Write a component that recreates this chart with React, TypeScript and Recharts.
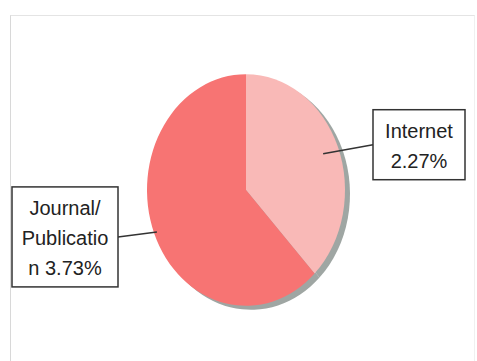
import { PieChart, Pie, Cell } from 'recharts'

const categories = ['Internet', 'Journal/Publication']
const values = [2.27, 3.73]
const colors = ['#F9B9B7', '#F77473']
const shadowColor = '#9FA6A3'

const data = categories.map((name, i) => ({ name, value: values[i] }))

const CX = 246
const CY = 190
const R = 99
const SQUASH = 1.17
const WRAP = 10

// Excel-style wrapping: break after '/' or space, hard split long words
function wrapLabel(text: string): string[] {
  const tokens = text.match(/[^\s/]+\/?|\s+/g) || []
  const lines: string[] = []
  let line = ''
  for (const tok of tokens) {
    if (/^\s+$/.test(tok)) {
      if (line) line += ' '
      continue
    }
    if ((line + tok).length <= WRAP) {
      line += tok
      continue
    }
    if (line.trim()) lines.push(line.trim())
    let rest = tok
    while (rest.length > WRAP) {
      lines.push(rest.slice(0, WRAP))
      rest = rest.slice(WRAP)
    }
    line = rest
  }
  if (line.trim()) lines.push(line.trim())
  return lines
}

function BoxLabel(props: any) {
  const { cx, cy, midAngle, outerRadius, name, value } = props
  const rad = (-midAngle * Math.PI) / 180
  const cos = Math.cos(rad)
  const sin = Math.sin(rad)
  const right = cos >= 0
  const k = right ? 0.84 : 0.97
  const ax = cx + outerRadius * k * cos
  const ay = cy + outerRadius * SQUASH * k * sin
  const lines = wrapLabel(`${name} ${value.toFixed(2)}%`)
  const maxLen = Math.max(...lines.map((l) => l.length))
  const w = 36 + 7 * maxLen
  const h = lines.length * 30 + 10
  const boxX = right ? cx + outerRadius + 28 : cx - outerRadius - 29 - w
  const midY = ay + (right ? -9 : 5)
  const boxY = midY - h / 2
  const lineEndX = right ? boxX : boxX + w
  return (
    <g>
      <line x1={ax} y1={ay} x2={lineEndX} y2={midY} stroke="#333" strokeWidth={1.5} />
      <rect x={boxX} y={boxY} width={w} height={h} fill="#fff" stroke="#333" strokeWidth={1.5} />
      {lines.map((l, i) => (
        <text
          key={i}
          x={boxX + w / 2}
          y={boxY + 28 + i * 30}
          textAnchor="middle"
          fontSize={20}
          fontFamily="'Liberation Sans', Arial, sans-serif"
          fill="#222"
        >
          {l}
        </text>
      ))}
    </g>
  )
}

export default function App() {
  return (
    <div style={{ position: 'absolute', left: 0, top: 0, width: 477, height: 361, background: '#fff' }}>
      <style>{`
        .main-pie .recharts-pie-sector { transform: scaleY(${SQUASH}); transform-origin: ${CX}px ${CY}px; }
        .shadow-pie .recharts-pie-sector { transform: scaleY(${SQUASH}); transform-origin: ${CX + 5}px ${CY + 4}px; }
      `}</style>
      <div
        style={{
          position: 'absolute',
          left: 10,
          top: 15,
          width: 463,
          height: 360,
          borderLeft: '1.5px solid #d8d8d8',
          borderTop: '1px solid #e4e4e4',
          borderRight: '1px solid #f0f0f0',
        }}
      />
      <PieChart
        width={477}
        height={361}
        margin={{ top: 0, right: 0, bottom: 0, left: 0 }}
        style={{ position: 'absolute', left: 0, top: 0 }}
      >
        <Pie
          className="shadow-pie"
          data={data}
          dataKey="value"
          nameKey="name"
          cx={CX + 5}
          cy={CY + 4}
          outerRadius={R}
          startAngle={90}
          endAngle={-270}
          stroke="none"
          isAnimationActive={false}
        >
          {data.map((d) => (
            <Cell key={d.name} fill={shadowColor} />
          ))}
        </Pie>
        <Pie
          className="main-pie"
          data={data}
          dataKey="value"
          nameKey="name"
          cx={CX}
          cy={CY}
          outerRadius={R}
          startAngle={90}
          endAngle={-270}
          stroke="none"
          label={BoxLabel}
          labelLine={false}
          isAnimationActive={false}
        >
          {data.map((d, i) => (
            <Cell key={d.name} fill={colors[i]} />
          ))}
        </Pie>
      </PieChart>
    </div>
  )
}
